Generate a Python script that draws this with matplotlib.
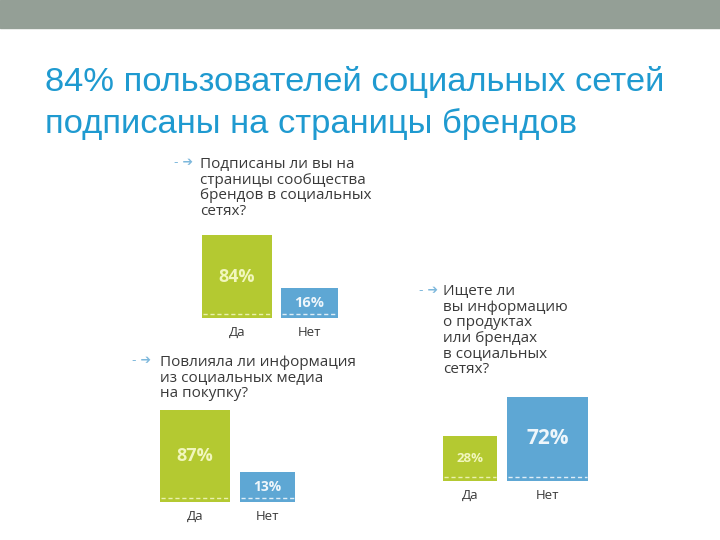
import matplotlib.pyplot as plt
from matplotlib.patches import Rectangle

# данные
categories = ['Да', 'Нет']
q1_values = [84, 16]
q2_values = [87, 13]
q3_values = [28, 72]

title_lines = ['84% пользователей социальных сетей',
               'подписаны на страницы брендов']
q1_text = 'Подписаны ли вы на\nстраницы сообщества\nбрендов в социальных\nсетях?'
q2_text = 'Повлияла ли информация\nиз социальных медиа\nна покупку?'
q3_text = 'Ищете ли\nвы информацию\nо продуктах\nили брендах\nв социальных\nсетях?'

# оформление
W, H = 720, 540
GREEN = '#b4c931'
BLUE = '#5ea7d4'
TITLE_COLOR = '#1f9ad0'
TEXT_COLOR = '#3a3a3a'
ARROW_COLOR = '#7db8dc'
BASE = 22  # столбики начинаются ниже нуля, чтобы маленькие значения было видно


def fx(px):
    return px / W


def fy(py):
    return 1 - py / H


def draw_chart(fig, values, left, widths, gap, bottom, top, label_sizes):
    """Один маленький столбчатый график (Да / Нет)"""
    span = widths[0] + gap + widths[1]
    ax = fig.add_axes([fx(left), fy(bottom), span / W, (bottom - top) / H])
    ax.set_xlim(0, span)
    ax.set_ylim(-BASE, max(values))
    ax.axis('off')

    lefts = [0, widths[0] + gap]
    colors = [GREEN, BLUE]
    text_colors = ['#f1f6bd', '#eef6fb']
    ax.bar(lefts, [v + BASE for v in values], width=widths, bottom=-BASE,
           align='edge', color=colors, linewidth=0)

    # пунктир у основания столбиков
    dy = (max(values) + BASE) * 4.5 / (bottom - top)
    for x0, w, tc in zip(lefts, widths, text_colors):
        ax.plot([x0 + 1, x0 + w - 1], [-BASE + dy, -BASE + dy], color=tc,
                linestyle=(0, (3, 2)), linewidth=1.0, alpha=0.9)

    for x0, w, v, tc, fs, cat in zip(lefts, widths, values, text_colors,
                                     label_sizes, categories):
        ax.text(x0 + w / 2, (v - BASE) / 2, f'{v}%', ha='center', va='center',
                color=tc, fontsize=fs, fontweight='bold', family='Open Sans')
        ax.annotate(cat, (x0 + w / 2, -BASE), xytext=(0, -10.5),
                    textcoords='offset points', ha='center', va='center',
                    color=TEXT_COLOR, fontsize=9.5, family='Open Sans', clip_on=False)
    return ax


def draw_question(fig, text, x_arrow, x_text, y_top):
    fig.text(fx(x_arrow), fy(y_top + 6), '- ➔', color=ARROW_COLOR, fontsize=9,
             va='center', ha='left', family='DejaVu Sans')
    fig.text(fx(x_text), fy(y_top), text, color=TEXT_COLOR, fontsize=11,
             va='top', ha='left', family='Open Sans', linespacing=1.05)


def main():
    fig = plt.figure(figsize=(7.2, 5.4), dpi=100)

    # серая полоса сверху
    fig.patches.append(Rectangle((0, fy(28)), 1, 28 / H, transform=fig.transFigure,
                                 color='#949f96', zorder=0))

    fig.text(fx(45), fy(91), title_lines[0], color=TITLE_COLOR, fontsize=24.8,
             va='baseline', family='Liberation Sans')
    fig.text(fx(45), fy(133), title_lines[1], color=TITLE_COLOR, fontsize=24.8,
             va='baseline', family='Liberation Sans')

    draw_question(fig, q1_text, 174, 200, 157)
    draw_chart(fig, q1_values, 202, (70, 57), 9, 318, 235, (13, 10.5))

    draw_question(fig, q2_text, 132, 160, 355)
    draw_chart(fig, q2_values, 160, (70, 55), 10, 502, 410, (13, 10))

    draw_question(fig, q3_text, 419, 443, 284)
    draw_chart(fig, q3_values, 443, (54, 81), 10, 481, 397, (9.5, 15))

    fig.savefig('out.png', dpi=100)


if __name__ == '__main__':
    main()
